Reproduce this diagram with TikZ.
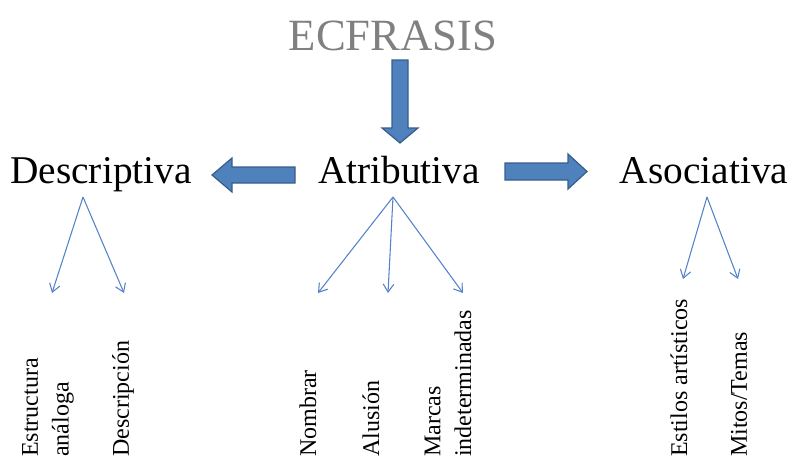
\documentclass[tikz,border=0pt]{standalone}
\usepackage{fontspec}
\setmainfont{Liberation Serif}
\usetikzlibrary{arrows.meta}

\definecolor{fatblue}{RGB}{79,129,189}
\definecolor{fatedge}{RGB}{56,93,138}
\definecolor{thinblue}{RGB}{84,130,200}
\definecolor{titlegray}{RGB}{128,128,128}

\begin{document}
\begin{tikzpicture}[x=0.75pt,y=-0.75pt,
  word/.style={font=\fontsize{29.5}{34}\selectfont, inner sep=0pt, anchor=base},
  leaf/.style={font=\rmfamily\fontsize{18}{23}\selectfont, rotate=90, anchor=west, align=left, inner sep=0pt},
  thin/.style={draw=thinblue, line width=0.8pt, -{Straight Barb[length=6pt,width=8pt]}},
  fat/.style={fill=fatblue, draw=fatedge, line width=0.9pt, line join=miter}]

\useasboundingbox (0,0) rectangle (796,458);

% the four words
\node[word, font=\fontsize{33.5}{40}\selectfont, text=titlegray] (ecf) at (393,50) {ECFRASIS};
\node[word] (desc) at (101,183) {Descriptiva};
\node[word] (atri) at (399,183) {Atributiva};
\node[word] (asoc) at (704,183) {Asociativa};

% block arrows
\draw[fat] (392,60) -- (408,60) -- (408,128) -- (418,128) -- (400,143) -- (382,128) -- (392,128) -- cycle; % down
\draw[fat] (295,167) -- (232,167) -- (232,158) -- (212,175) -- (232,192) -- (232,183) -- (295,183) -- cycle; % left
\draw[fat] (505,163) -- (568,163) -- (568,154) -- (587,171.5) -- (568,189) -- (568,180) -- (505,180) -- cycle; % right

% forks
\coordinate (descfork) at (83,197);
\coordinate (atrifork) at (393,197);
\coordinate (asocfork) at (707,197);

\coordinate (d1) at (52,293);
\coordinate (d2) at (124,293);
\coordinate (a1) at (318,293);
\coordinate (a2) at (388,293);
\coordinate (a3) at (463,293);
\coordinate (s1) at (683,279);
\coordinate (s2) at (738,279);

\draw[thin] (descfork) -- (d1);
\draw[thin] (descfork) -- (d2);
\draw[thin] (atrifork) -- (a1);
\draw[thin] (atrifork) -- (a2);
\draw[thin] (atrifork) -- (a3);
\draw[thin] (asocfork) -- (s1);
\draw[thin] (asocfork) -- (s2);

% leaves
\node[leaf] (estr) at (48,457) {Estructura\\análoga};
\node[leaf] (descr) at (123,457) {Descripción};
\node[leaf] (nomb) at (308,457) {Nombrar};
\node[leaf] (alus) at (371,457) {Alusión};
\node[leaf] (marc) at (448,457) {Marcas\\indeterminadas};
\node[leaf] (esti) at (679,457) {Estilos artísticos};
\node[leaf] (mito) at (739,457) {Mitos/Temas};

\end{tikzpicture}
\end{document}
